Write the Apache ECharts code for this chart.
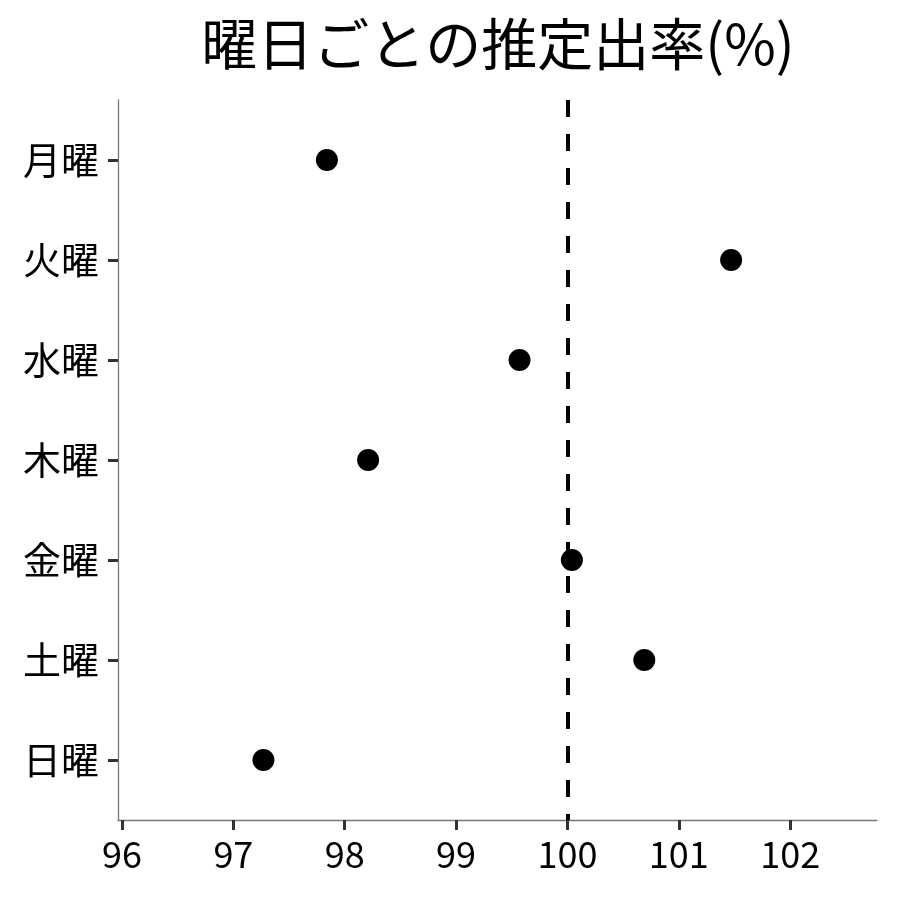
<!DOCTYPE html>
<html>
<head>
<meta charset="utf-8">
<script src="https://cdn.jsdelivr.net/npm/echarts@6/dist/echarts.min.js"></script>
<style>html,body{margin:0;padding:0;background:#fff}#c{width:900px;height:900px}</style>
</head>
<body>
<div id="c"></div>
<script>
const titleText = '曜日ごとの推定出率(%)';
const categories = ['月曜', '火曜', '水曜', '木曜', '金曜', '土曜', '日曜'];
const values = [97.84, 101.47, 99.57, 98.21, 100.04, 100.69, 97.27];
const referenceValue = 100;
const xTicks = [96, 97, 98, 99, 100, 101, 102];

const FONT = '"Noto Sans CJK JP", "Noto Sans", sans-serif';
const chart = echarts.init(document.getElementById('c'), null, {renderer: 'canvas'});
chart.setOption({
  animation: false,
  backgroundColor: '#ffffff',
  title: {
    text: titleText,
    left: 493, textAlign: 'center', top: 11,
    textStyle: {fontFamily: FONT, fontSize: 56, fontWeight: 'normal', color: '#000'}
  },
  grid: {left: 118, right: 23, top: 100, bottom: 80, containLabel: false},
  xAxis: {
    type: 'value', min: 95.964, max: 102.78,
    splitLine: {show: false},
    axisLine: {show: true, onZero: false, lineStyle: {color: '#777', width: 1.3}},
    axisTick: {show: true, length: 10, lineStyle: {color: '#333', width: 3}, customValues: xTicks},
    axisLabel: {fontFamily: FONT, fontSize: 36, color: '#000', margin: 16, customValues: xTicks,
      formatter: v => String(Math.round(v))}
  },
  yAxis: {
    type: 'value', inverse: true, min: -0.6, max: 6.6,
    splitLine: {show: false},
    axisLine: {show: true, onZero: false, lineStyle: {color: '#777', width: 1.3}},
    axisTick: {show: true, length: 10, lineStyle: {color: '#333', width: 3}, customValues: categories.map((c, i) => i)},
    axisLabel: {fontFamily: FONT, fontSize: 38, color: '#000', margin: 19,
      customValues: categories.map((c, i) => i),
      formatter: v => categories[Math.round(v)]}
  },
  series: [{
    type: 'scatter',
    symbol: 'circle',
    symbolSize: 22,
    itemStyle: {color: '#000', opacity: 1},
    data: values.map((v, i) => [v, i]),
    markLine: {
      silent: true, symbol: 'none', label: {show: false},
      lineStyle: {color: '#000', width: 4, type: [17, 17]},
      data: [{xAxis: referenceValue}]
    }
  }]
});
</script>
</body>
</html>
